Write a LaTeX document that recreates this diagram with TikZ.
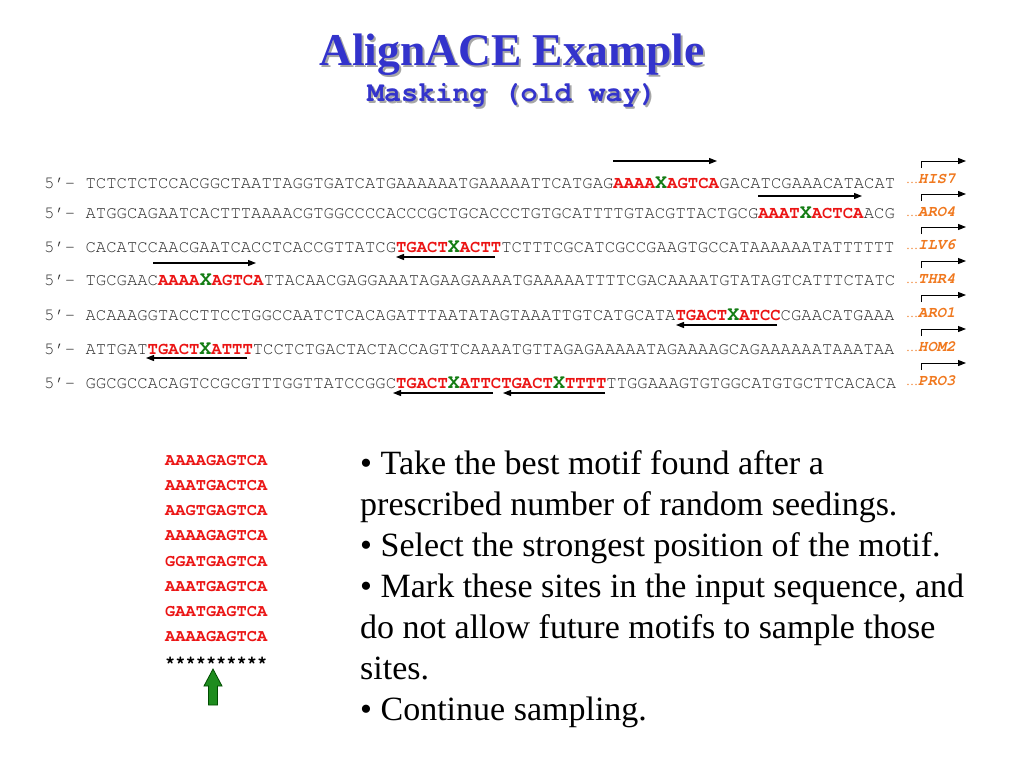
\documentclass[tikz,border=0pt]{standalone}
\usepackage{fontspec}
\setmainfont{Liberation Serif}
\setmonofont{TeX Gyre Cursor}
\usetikzlibrary{arrows.meta,positioning}
\definecolor{titleblue}{RGB}{51,51,204}
\definecolor{seqgray}{RGB}{40,40,40}
\definecolor{motred}{RGB}{235,20,20}
\definecolor{xgreen}{RGB}{20,125,20}
\definecolor{geneorange}{RGB}{240,120,30}
\definecolor{upgreen}{RGB}{30,140,30}
\newcommand{\mt}[1]{\textcolor{motred}{\textbf{#1}}}
\newcommand{\xx}{\textcolor{xgreen}{\fontsize{20}{20}\selectfont\bfseries X}}
\newcommand{\shadowed}[1]{\makebox[0pt][l]{\kern2pt\raisebox{-2pt}{\textcolor{black!35}{#1}}}#1}
\tikzset{
    seqline/.style={anchor=base west, inner sep=0pt, text=seqgray, font=\ttfamily\fontsize{17.25}{17.25}\selectfont},
    motarrow/.style={line width=1.2pt, -{Triangle[length=8pt,width=6pt]}},
    gene/.style={anchor=base west, inner sep=0pt, text=geneorange, font=\ttfamily\bfseries\itshape\fontsize{15.5}{15.5}\selectfont},
    tss/.style={line width=1pt, -{Triangle[length=8pt,width=6pt]}},
    motcol/.style={anchor=base west, inner sep=0pt, text=motred, font=\ttfamily\bfseries\fontsize{17}{17}\selectfont},
    bullet/.style={anchor=base west, inner sep=0pt, font=\fontsize{34}{34}\selectfont}
}
\begin{document}
\begin{tikzpicture}[x=1pt,y=-1pt]
\useasboundingbox[fill=white] (0,0) rectangle (1024,768);
% title
\node[anchor=base, text=titleblue, font=\bfseries\fontsize{45.5}{45.5}\selectfont] (title) at (512,65) {\shadowed{AlignACE Example}};
\node[anchor=base, text=titleblue, font=\ttfamily\bfseries\fontsize{28.4}{28.4}\selectfont] (sub) at (512,101) {\shadowed{Masking (old way)}};
% sequences
\node[seqline] (s1) at (44,188) {5’- TCTCTCTCCACGGCTAATTAGGTGATCATGAAAAAATGAAAAATTCATGAG\mt{AAAA}\xx\mt{AGTCA}GACATCGAAACATACAT};
\node[seqline] (s2) at (44,218) {5’- ATGGCAGAATCACTTTAAAACGTGGCCCCACCCGCTGCACCCTGTGCATTTTGTACGTTACTGCG\mt{AAAT}\xx\mt{ACTCA}ACG};
\node[seqline] (s3) at (44,252) {5’- CACATCCAACGAATCACCTCACCGTTATCG\mt{TGACT}\xx\mt{ACTT}TCTTTCGCATCGCCGAAGTGCCATAAAAAATATTTTTT};
\node[seqline] (s4) at (44,285) {5’- TGCGAAC\mt{AAAA}\xx\mt{AGTCA}TTACAACGAGGAAATAGAAGAAAATGAAAAATTTTCGACAAAATGTATAGTCATTTCTATC};
\node[seqline] (s5) at (44,320) {5’- ACAAAGGTACCTTCCTGGCCAATCTCACAGATTTAATATAGTAAATTGTCATGCATA\mt{TGACT}\xx\mt{ATCC}CGAACATGAAA};
\node[seqline] (s6) at (44,354) {5’- ATTGAT\mt{TGACT}\xx\mt{ATTT}TCCTCTGACTACTACCAGTTCAAAATGTTAGAGAAAAATAGAAAAGCAGAAAAAATAAATAA};
\node[seqline] (s7) at (44,388) {5’- GGCGCCACAGTCCGCGTTTGGTTATCCGGC\mt{TGACT}\xx\mt{ATTCTGACT}\xx\mt{TTTT}TTGGAAAGTGTGGCATGTGCTTCACACA};
% motif arrows
\draw[motarrow] (613,161) -- (717,161);
\draw[motarrow] (758,196) -- (862,196);
\draw[motarrow] (495,257) -- (396,257);
\draw[motarrow] (153,263) -- (256,263);
\draw[motarrow] (777,325) -- (676,325);
\draw[motarrow] (247,358) -- (146,358);
\draw[motarrow] (493,393) -- (393,393);
\draw[motarrow] (605,393) -- (503,393);
% genes
\foreach \g/\y [count=\i] in {HIS7/183,ARO4/216,ILV6/249,THR4/283,ARO1/317,HOM2/351,PRO3/385}{
    \node[gene] (g\i) at (906,\y) {{\rmfamily\mdseries\upshape\fontsize{12}{12}\selectfont…}\g};
    \coordinate (t\i) at (966,\y-22);
    \draw[tss] (921,\y-15) |- (t\i);
}
% alignment
\foreach \m [count=\k] in {AAAAGAGTCA,AAATGACTCA,AAGTGAGTCA,AAAAGAGTCA,GGATGAGTCA,AAATGAGTCA,GAATGAGTCA,AAAAGAGTCA}
    \node[motcol] (m\k) at (165,440+25.2*\k) {\m};
\node[motcol, text=black] (stars) at (165,667) {**********};
\draw[fill=upgreen, draw=black!70!green, line width=0.8pt] (213,669) -- (222,686) -- (217.5,686) -- (217.5,705) -- (208.5,705) -- (208.5,686) -- (204,686) -- cycle;
% text
\foreach \t [count=\k] in {{• Take the best motif found after a},{prescribed number of random seedings.},{• Select the strongest position of the motif.},{• Mark these sites in the input sequence, and},{do not allow future motifs to sample those},{sites.},{• Continue sampling.}}
    \node[bullet] (b\k) at (360,433+41*\k) {\t};
\end{tikzpicture}
\end{document}
